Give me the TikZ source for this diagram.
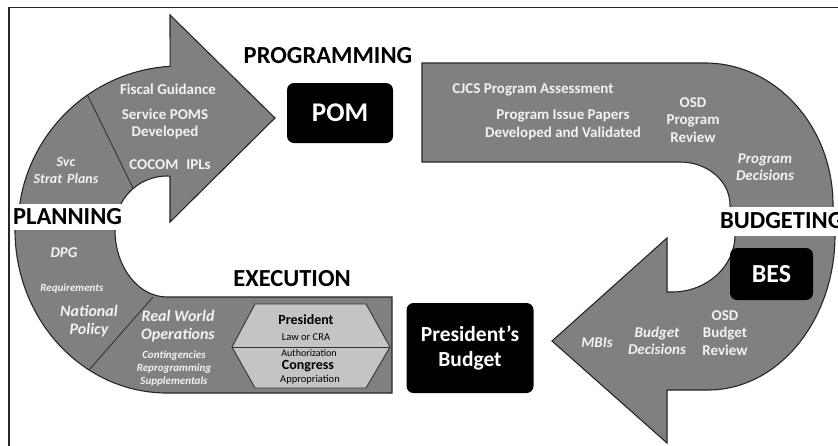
\documentclass[tikz,border=0pt]{standalone}
\usepackage{fontspec}
\setmainfont{Carlito}
\definecolor{bandgrey}{RGB}{128,128,128}
\definecolor{hexgrey}{RGB}{196,196,196}
\definecolor{textwhite}{RGB}{242,242,242}
\tikzset{
  band/.style={fill=bandgrey, draw=black!85, line width=1.1pt},
  header/.style={fill=white, inner sep=1pt, font=\fontsize{24.5}{28}\selectfont\bfseries},
  bandtext/.style={text=textwhite, align=center, inner sep=0pt, font=\fontsize{15}{17.5}\selectfont\bfseries},
  banditalic/.style={text=textwhite, align=center, inner sep=0pt, font=\fontsize{15}{17.5}\selectfont\bfseries\itshape},
  smallitalic/.style={text=textwhite, align=center, inner sep=0pt, font=\fontsize{11}{13}\selectfont\bfseries\itshape},
  hextext/.style={align=center, inner sep=0pt, font=\fontsize{10.5}{13}\selectfont},
  blackbox/.style={fill=black, text=white, rounded corners=7pt, align=center, inner sep=0pt}
}

\begin{document}
\begin{tikzpicture}[x=1pt, y=-1pt]
    \clip (0,0) rectangle (838,445);
    \draw [black!85, line width=1.5pt] (9,7.5) rectangle (900,500);

    \draw [band] (18,228) arc [start angle=180, end angle=266.5, radius=162] -- (170,15) -- (275,118) -- (170,222) -- (170,176.1)
                 arc [start angle=273.3, end angle=180, radius=52] -- (115,230)
                 arc [start angle=180, end angle=90, x radius=52, y radius=67] -- (392,297) -- (392,393) -- (167,393)
                 arc [start angle=90, end angle=180, x radius=152, y radius=163] -- cycle;
    \draw [band] (422,63) -- (705,63) arc [start angle=-90, end angle=0, x radius=128, y radius=142] -- (835,235)
                 arc [start angle=0, end angle=90, x radius=127, y radius=155] -- (667,390) -- (667,443) -- (552,341) -- (667,238) -- (667,292) -- (672,292)
                 arc [start angle=90, end angle=0, x radius=63, y radius=57] -- (730,205)
                 arc [start angle=0, end angle=-90, x radius=50, y radius=43] -- (422,162) -- cycle;

    \draw [black!80, line width=0.9pt] (88,96) -- (133,188);
    \draw [black!80, line width=0.9pt] (153,297) -- (89,370);

    \draw [fill=hexgrey, draw=black!80, line width=0.9pt] (232,347) -- (255,304) -- (366,304) -- (390,347) -- (366,388) -- (255,388) -- cycle;
    \draw [black!80, line width=0.9pt] (232,347) -- (390,347);

    \node [header] (programming) at (328,55.5) {PROGRAMMING};
    \node [header] [anchor=west] [minimum height=26pt] (planning) at (12,217) {PLANNING};
    \node [header] (execution) at (292,279) {EXECUTION};
    \node [header] [anchor=west] [minimum height=29pt] (budgeting) at (719,221) {BUDGETING};

    \node [blackbox] [minimum width=106pt, minimum height=60pt] [font=\fontsize{27}{30}\selectfont\bfseries] (pom) at (340,113) {POM};
    \node [blackbox] [minimum width=83pt, minimum height=52pt] [font=\fontsize{26}{30}\selectfont\bfseries] (bes) at (771.5,274) {BES};
    \node [blackbox] [minimum width=127pt, minimum height=90pt] [font=\fontsize{21.5}{25}\selectfont\bfseries] (presbudget) at (470,348) {President's\\Budget};

    \node [bandtext] (fiscal) at (168,89) {Fiscal Guidance};
    \node [bandtext] (servicepoms) at (165,124) {Service POMS\\Developed};
    \node [bandtext] (cocom) at (170,165) {COCOM\hspace{8pt}IPLs};
    \node [banditalic] [font=\fontsize{14}{17}\selectfont\bfseries\itshape] (svcplans) at (66,170) {Svc\\Strat\hspace{5pt}Plans};
    \node [banditalic] (dpg) at (64,253) {DPG};
    \node [smallitalic] (requirements) at (72,288) {Requirements};
    \node [banditalic] [font=\fontsize{16}{18.5}\selectfont\bfseries\itshape] (natpolicy) at (89,321) {National\\Policy};
    \node [banditalic] [font=\fontsize{16}{18.5}\selectfont\bfseries\itshape] (realworld) at (178,326) {Real World\\Operations};
    \node [smallitalic] (contingencies) at (174,368) {Contingencies\\Reprogramming\\Supplementals};

    \node [hextext] [font=\fontsize{14}{16}\selectfont\bfseries] (president) at (306,320) {President};
    \node [hextext] (lawcra) at (306,337) {Law or CRA};
    \node [hextext] [font=\fontsize{10}{12}\selectfont] (authorization) at (309,353) {Authorization};
    \node [hextext] [font=\fontsize{14}{16}\selectfont\bfseries] (congress) at (308,366.5) {Congress};
    \node [hextext] (appropriation) at (310,380) {Appropriation};

    \node [bandtext] (cjcs) at (533,90) {CJCS Program Assessment};
    \node [bandtext] (progissue) at (563,125) {Program Issue Papers\\Developed and Validated};
    \node [bandtext] (osdprog) at (693,120) {OSD\\Program\\Review};
    \node [banditalic] (progdecisions) at (765,167) {Program\\Decisions};

    \node [bandtext] (osdbudget) at (725,333) {OSD\\Budget\\Review};
    \node [banditalic] (budgetdecisions) at (657,341) {Budget\\Decisions};
    \node [banditalic] (mbis) at (597,343) {MBIs};
\end{tikzpicture}
\end{document}
